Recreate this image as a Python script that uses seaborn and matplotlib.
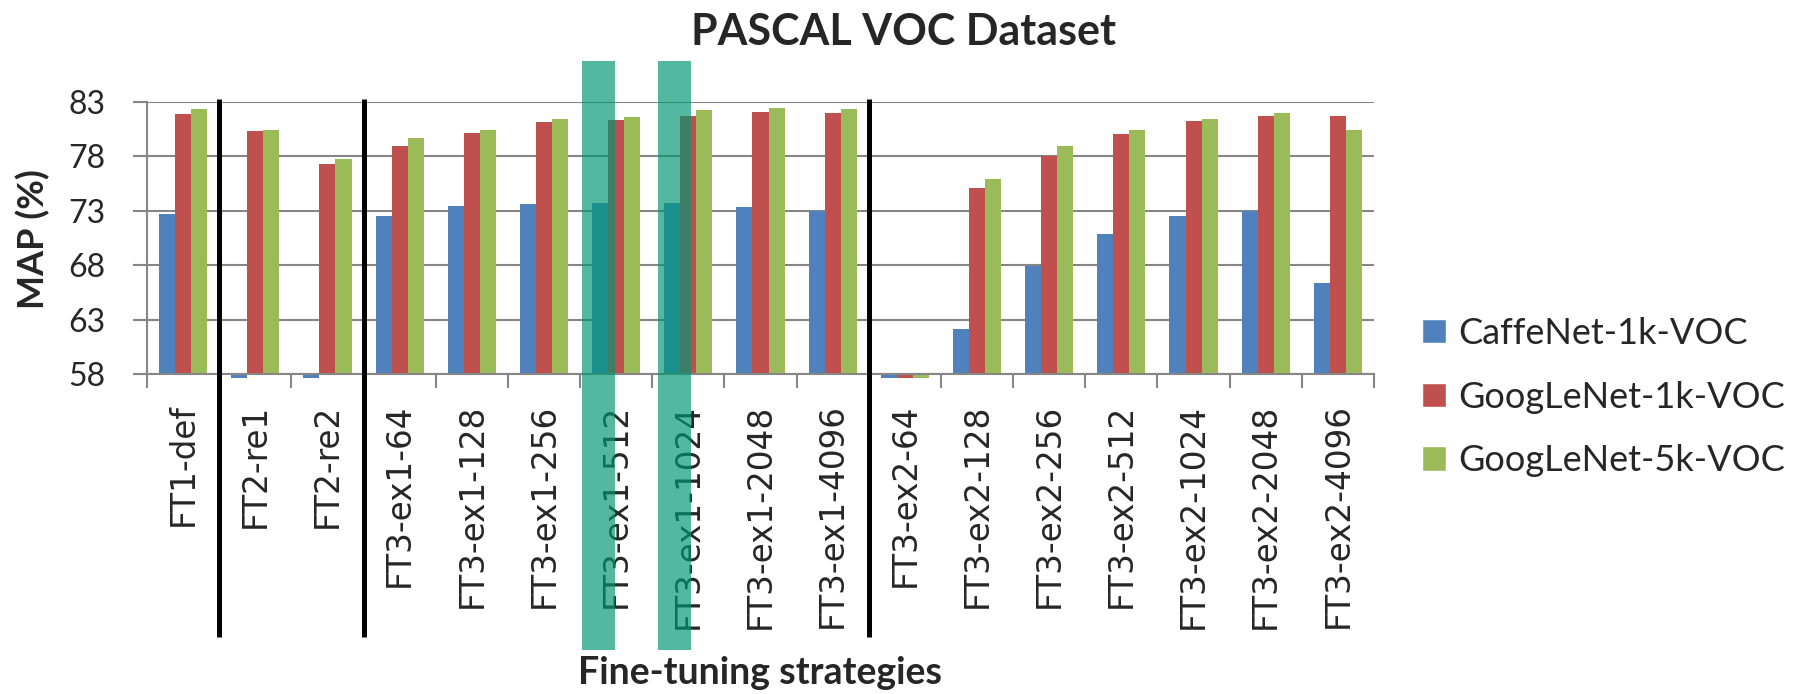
import matplotlib
matplotlib.use("Agg")
import matplotlib.pyplot as plt
import matplotlib.transforms as mtransforms
from matplotlib.patches import Rectangle
import seaborn as sns
import pandas as pd

# data
strategies = ["FT1-def", "FT2-re1", "FT2-re2",
              "FT3-ex1-64", "FT3-ex1-128", "FT3-ex1-256", "FT3-ex1-512",
              "FT3-ex1-1024", "FT3-ex1-2048", "FT3-ex1-4096",
              "FT3-ex2-64", "FT3-ex2-128", "FT3-ex2-256", "FT3-ex2-512",
              "FT3-ex2-1024", "FT3-ex2-2048", "FT3-ex2-4096"]
caffenet_1k = [72.7, 57.7, 57.7, 72.5, 73.4, 73.6, 73.75, 73.7, 73.3, 73.0,
               57.7, 62.2, 67.9, 70.85, 72.5, 73.0, 66.4]
googlenet_1k = [81.9, 80.3, 77.3, 78.9, 80.1, 81.1, 81.35, 81.7, 82.1, 82.0,
                57.7, 75.1, 78.0, 80.0, 81.2, 81.65, 81.65]
googlenet_5k = [82.3, 80.4, 77.7, 79.7, 80.4, 81.4, 81.6, 82.2, 82.4, 82.3,
                57.7, 75.9, 78.9, 80.4, 81.4, 82.0, 80.4]
series_names = ["CaffeNet-1k-VOC", "GoogLeNet-1k-VOC", "GoogLeNet-5k-VOC"]
series_colors = ["#4F81BD", "#C0504D", "#9BBB59"]
y_ticks = [58, 63, 68, 73, 78, 83]

df = pd.DataFrame({
    "strategy": strategies * 3,
    "model": [n for n in series_names for _ in strategies],
    "map": caffenet_1k + googlenet_1k + googlenet_5k,
})

sns.set_style("white")
plt.rcParams["font.family"] = ["Lato", "DejaVu Sans"]

fig = plt.figure(figsize=(18.08, 6.94), dpi=100)
ax = fig.add_axes([147 / 1808, 1 - 374.3 / 694, 1227 / 1808, 272.6 / 694])

sns.barplot(data=df, x="strategy", y="map", hue="model", order=strategies,
            hue_order=series_names, palette=series_colors, width=0.667,
            saturation=1, ax=ax, legend=True)

ax.set_ylim(58, 83)
ax.set_xlim(-0.5, len(strategies) - 0.5)

# Excel-style: bars grow from the axis floor (58), values below it stick out
for cont in ax.containers:
    for rect in cont:
        h = rect.get_height()
        rect.set_y(58)
        rect.set_height(h - 58)
        rect.set_edgecolor("none")
        if h < 58:
            rect.set_clip_on(False)

grid_c = "#868686"
ax.set_yticks(y_ticks)
ax.yaxis.grid(True, color=grid_c, linewidth=1.5)
ax.set_axisbelow(True)
ax.tick_params(axis="y", length=10, width=1.5, color=grid_c, pad=20,
               labelsize=23, left=True)

ax.set_xticks(range(len(strategies)))
ax.set_xticklabels(strategies, rotation=90, fontsize=23.5,
                   fontfamily="DejaVu Sans", va="top", ha="center")
ax.tick_params(axis="x", which="major", length=0, pad=21)
ax.set_xticks([i - 0.5 for i in range(len(strategies) + 1)], minor=True)
ax.tick_params(axis="x", which="minor", length=10, width=1.5, color=grid_c,
               bottom=True)

for side in ["top", "right"]:
    ax.spines[side].set_visible(False)
for side in ["left", "bottom"]:
    ax.spines[side].set_color(grid_c)
    ax.spines[side].set_linewidth(1.5)

ax.set_xlabel("Fine-tuning strategies", fontsize=27, fontweight="bold",
              va="center")
ax.xaxis.set_label_coords(0.5, -1.096)
ax.set_ylabel("MAP (%)", fontsize=26, fontweight="bold", va="center")
ax.yaxis.set_label_coords(-0.0929, 0.496)

fig.text(0.5, 1 - 32 / 694, "PASCAL VOC Dataset", fontsize=31,
         fontweight="bold", ha="center", va="center")

# separators between strategy families
trans = mtransforms.blended_transform_factory(ax.transData, ax.transAxes)
ax.vlines([0.5, 2.5, 9.5], -0.9637, 1.0099, transform=trans, color="black",
          linewidth=3.6, clip_on=False, zorder=4)

# translucent teal highlights
for x0, x1 in [(5.525, 5.982), (6.578, 7.035)]:
    ax.add_patch(Rectangle((x0, -1.011), x1 - x0, 2.16, transform=trans,
                           facecolor="#009673", alpha=0.67, edgecolor="none",
                           clip_on=False, zorder=5))

ax.legend(loc="center left", bbox_to_anchor=(1422 / 1808, 1 - 397 / 694),
          bbox_transform=fig.transFigure, frameon=False, fontsize=26,
          handlelength=0.66, handleheight=0.66, handletextpad=0.35,
          labelspacing=0.85, borderpad=0, borderaxespad=0)

fig.savefig("out.png", dpi=100)
